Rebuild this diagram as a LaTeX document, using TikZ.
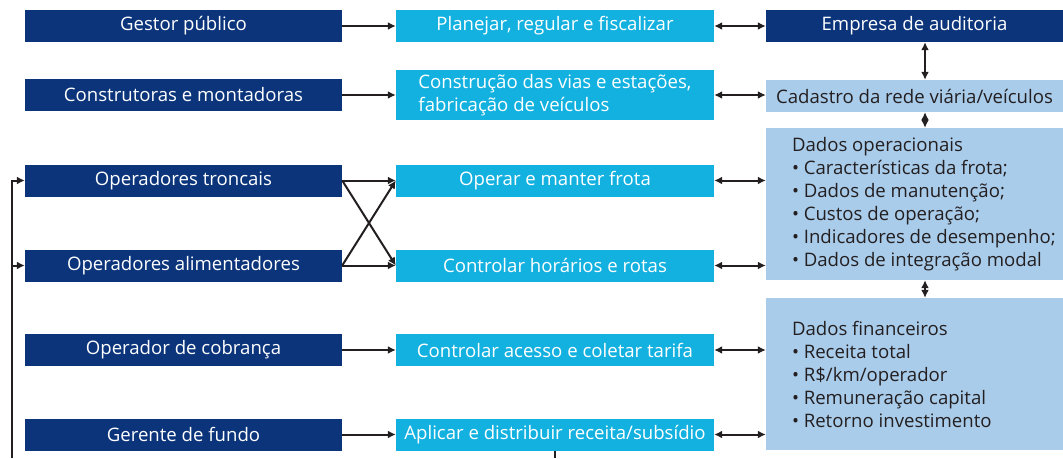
\documentclass[tikz,border=0pt]{standalone}
\usepackage{fontspec}
\setmainfont{Open Sans}
\usepackage{xcolor}
\usetikzlibrary{arrows.meta}

\definecolor{azulescuro}{HTML}{0B347A}
\definecolor{ciano}{HTML}{13B1E0}
\definecolor{celeste}{HTML}{AACCEB}
\definecolor{grafite}{HTML}{231F20}

\tikzset{
  ator/.style={fill=azulescuro,text=white,minimum width=317pt,minimum height=32pt,inner sep=0pt},
  tarefa/.style={fill=ciano,text=white,minimum width=318pt,minimum height=32pt,inner sep=0pt,align=left},
  dados/.style={fill=celeste,text=grafite,minimum width=297pt,inner sep=0pt},
  lista/.style={text=grafite,anchor=west,align=left,inner sep=0pt},
  liga/.style={draw=grafite,line width=2pt}
}

\begin{document}
\begin{tikzpicture}[x=1pt,y=-1pt,>={Latex[length=8pt,width=8pt]},font=\fontsize{18.6}{23}\selectfont]
  \useasboundingbox (0,0) rectangle (1063,458);
  % coluna dos atores
  \node[ator] (gestor) at (183.5,26) {Gestor público};
  \node[ator] (construtoras) at (183.5,95) {Construtoras e montadoras};
  \node[ator] (troncais) at (183.5,180.5) {Operadores troncais};
  \node[ator] (alimentadores) at (183.5,265.5) {Operadores alimentadores};
  \node[ator] (cobranca) at (183.5,350) {Operador de cobrança};
  \node[ator] (fundo) at (183.5,434.5) {Gerente de fundo};
  % coluna das tarefas
  \node[tarefa] (planejar) at (555,26) {Planejar, regular e fiscalizar};
  \node[tarefa,minimum height=50pt] (construcao) at (555,95) {Construção das vias e estações,\\fabricação de veículos};
  \node[tarefa] (operar) at (555,180.5) {Operar e manter frota};
  \node[tarefa] (horarios) at (555,265.5) {Controlar horários e rotas};
  \node[tarefa] (acesso) at (555,350) {Controlar acesso e coletar tarifa};
  \node[tarefa] (aplicar) at (555,434.5) {Aplicar e distribuir receita/subsídio};
  % coluna dos dados
  \node[ator,minimum width=297pt] (auditoria) at (914.5,26) {Empresa de auditoria};
  \node[dados,minimum height=32pt] (cadastro) at (914.5,96) {Cadastro da rede viária/veículos};
  \node[dados,minimum height=152pt] (operacionais) at (914.5,204) {};
  \node[lista] (textoop) at ([xshift=26pt]operacionais.west) {Dados operacionais\\
    • Características da frota;\\
    • Dados de manutenção;\\
    • Custos de operação;\\
    • Indicadores de desempenho;\\
    • Dados de integração modal};
  \node[dados,minimum height=152pt] (financeiros) at (914.5,374) {};
  \node[lista] (textofin) at ([xshift=26pt]financeiros.west) {Dados financeiros\\
    • Receita total\\
    • R\$/km/operador\\
    • Remuneração capital\\
    • Retorno investimento};

  \coordinate (base) at (12,458);

  % atores -> tarefas
  \draw[liga,->] (gestor) -- (planejar);
  \draw[liga,->] (construtoras) -- (construcao);
  \draw[liga,->] (troncais) -- (operar);
  \draw[liga,->] (alimentadores) -- (horarios);
  \draw[liga,->] (troncais.east) -- (horarios.west);
  \draw[liga,->] (alimentadores.east) -- (operar.west);
  \draw[liga,->] (cobranca) -- (acesso);
  \draw[liga,->] (fundo) -- (aplicar);
  % tarefas <-> dados
  \draw[liga,<->] (planejar) -- (auditoria);
  \draw[liga,<->] (construcao.east) -- (construcao.east -| cadastro.west);
  \draw[liga,<->] (operar.east) -- (operar.east -| operacionais.west);
  \draw[liga,<->] (horarios.east) -- (horarios.east -| operacionais.west);
  \draw[liga,<->] (acesso.east) -- (acesso.east -| financeiros.west);
  \draw[liga,<->] (aplicar.east) -- (aplicar.east -| financeiros.west);
  % dados entre si
  \draw[liga,<->] ([xshift=10.5pt]auditoria.south) -- ([xshift=10.5pt]cadastro.north);
  \draw[liga,<->] ([xshift=10.5pt]cadastro.south) -- ([xshift=10.5pt]operacionais.north);
  \draw[liga,<->] ([xshift=10.5pt]operacionais.south) -- ([xshift=10.5pt]financeiros.north);
  % retornos
  \draw[liga,->] (base) |- (troncais.west);
  \draw[liga,->] (base |- alimentadores.west) -- (alimentadores.west);
  \draw[liga] (aplicar.south) -- (aplicar.south |- base);
\end{tikzpicture}
\end{document}
